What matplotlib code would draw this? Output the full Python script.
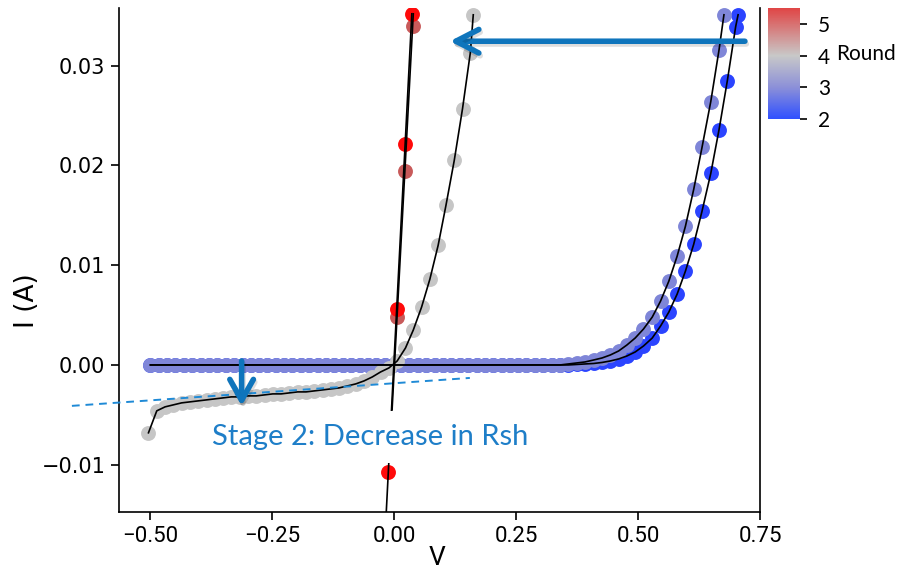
import matplotlib
matplotlib.use("Agg")
import matplotlib.pyplot as plt
import matplotlib.patheffects as pe
from matplotlib.colors import LinearSegmentedColormap, Normalize
from matplotlib.cm import ScalarMappable
from matplotlib.patches import FancyArrowPatch

# voltage sweep shared by rounds 2 and 3 (V)
V_SWEEP = [-0.500, -0.483, -0.466, -0.449, -0.431, -0.414, -0.397, -0.380, -0.363, -0.346,
           -0.329, -0.311, -0.294, -0.277, -0.260, -0.243, -0.226, -0.209, -0.191, -0.174,
           -0.157, -0.140, -0.123, -0.106, -0.089, -0.071, -0.054, -0.037, -0.020, -0.003,
           0.014, 0.031, 0.049, 0.066, 0.083, 0.100, 0.117, 0.134, 0.151, 0.169,
           0.186, 0.203, 0.220, 0.237, 0.254, 0.271, 0.289, 0.306, 0.323, 0.340,
           0.357, 0.374, 0.391, 0.409, 0.426, 0.443, 0.460, 0.477, 0.494, 0.511,
           0.529, 0.546, 0.563, 0.580, 0.597, 0.614, 0.631, 0.649, 0.666, 0.683,
           0.700]

# round 2 (A)
V_ROUND2 = V_SWEEP + [0.705]
I_ROUND2 = [0.0] * 51 + [0.00005, 0.0001, 0.00015, 0.00025, 0.0004, 0.0006, 0.0009, 0.0013,
                         0.0019, 0.0027, 0.0039, 0.0053, 0.0071, 0.0094, 0.0121, 0.0154,
                         0.0192, 0.0236, 0.0285, 0.0339, 0.0351]

# round 3
V_ROUND3 = V_SWEEP[:69] + [0.676]
I_ROUND3 = [0.0] * 50 + [0.0001, 0.0002, 0.0003, 0.0005, 0.0007, 0.0010, 0.0014, 0.0020,
                         0.0027, 0.0036, 0.0048, 0.0064, 0.0084, 0.0109, 0.0139, 0.0176,
                         0.0218, 0.0264, 0.0316, 0.0351]

# round 4
V_ROUND4 = [-0.504, -0.487, -0.470, -0.453, -0.436, -0.419, -0.402, -0.385, -0.368, -0.351,
            -0.334, -0.317, -0.300, -0.283, -0.266, -0.249, -0.232, -0.215, -0.198, -0.181,
            -0.164, -0.147, -0.130, -0.113, -0.096, -0.079, -0.062, -0.045, -0.028, -0.011,
            0.006, 0.023, 0.039, 0.056, 0.073, 0.090, 0.106, 0.123, 0.140, 0.156, 0.162]
I_ROUND4 = [-0.0068, -0.0046, -0.0042, -0.0040, -0.0038, -0.0037, -0.0036, -0.0035, -0.0034, -0.0033,
            -0.0032, -0.0032, -0.0031, -0.0031, -0.0030, -0.0029, -0.0029, -0.0028, -0.0027, -0.0027,
            -0.0026, -0.0025, -0.0024, -0.0023, -0.0021, -0.0019, -0.0016, -0.0012, -0.0007, -0.0003,
            0.0004, 0.0017, 0.0035, 0.0058, 0.0086, 0.0120, 0.0160, 0.0205, 0.0257, 0.0313, 0.0351]

# round 5 (two sweeps) + their straight fits
V_ROUND5A = [-0.012, 0.005, 0.022, 0.036]
I_ROUND5A = [-0.0107, 0.0056, 0.0221, 0.0352]
V_FIT5A = [-0.030, 0.036]
I_FIT5A = [-0.0277, 0.0352]

V_ROUND5B = [0.006, 0.022, 0.038]
I_ROUND5B = [0.0048, 0.0194, 0.0340]
V_FIT5B = [-0.0045, 0.039]
I_FIT5B = [-0.0045, 0.0352]

# guide line for shunt slope
V_GUIDE = [-0.661, 0.155]
I_GUIDE = [-0.0041, -0.0013]

CB_TICKS = [2, 3, 4, 5]

fig = plt.figure(figsize=(8.97, 5.72), dpi=100)
ax = fig.add_axes([0.1329, 0.1054, 0.7144, 0.8806])

ms = 115
ax.scatter(V_ROUND2, I_ROUND2, s=ms, color='#2b44ff', lw=0, zorder=2)
ax.scatter(V_ROUND3, I_ROUND3, s=ms, color='#7f86d8', lw=0, zorder=2.1)
ax.scatter(V_ROUND4, I_ROUND4, s=ms, color='#c6c6c6', lw=0, zorder=2.2)
ax.scatter(V_ROUND5B, I_ROUND5B, s=ms, color='#c85a5a', lw=0, zorder=2.3)
ax.scatter(V_ROUND5A, I_ROUND5A, s=ms, color='#ff0a0a', lw=0, zorder=2.4)

for vx, iy in [(V_ROUND2, I_ROUND2), (V_ROUND3, I_ROUND3), (V_ROUND4, I_ROUND4),
               (V_FIT5A, I_FIT5A), (V_FIT5B, I_FIT5B)]:
    ax.plot(vx, iy, color='black', lw=1.2, zorder=3)

ax.plot(V_GUIDE, I_GUIDE, color='#1f8ad6', lw=1.4, ls=(0, (4, 3)), zorder=3.5, clip_on=False)

ax.set_xlim(-0.564, 0.75)
ax.set_ylim(-0.01471, 0.03578)
ax.set_xticks([-0.5, -0.25, 0.0, 0.25, 0.5, 0.75])
ax.set_yticks([-0.01, 0.0, 0.01, 0.02, 0.03])
ax.set_yticklabels(['\u22120.01', '0.00', '0.01', '0.02', '0.03'])
ax.set_xticklabels(['\u22120.50', '\u22120.25', '0.00', '0.25', '0.50', '0.75'])

for lab in ax.get_xticklabels():
    lab.set_fontfamily('Roboto')
    lab.set_fontsize(16)
for lab in ax.get_yticklabels():
    lab.set_fontfamily('DejaVu Sans')
    lab.set_fontsize(15)
ax.tick_params(axis='both', length=6, width=1.2, pad=4)

ax.spines['top'].set_visible(False)
for s in ['left', 'right', 'bottom']:
    ax.spines[s].set_linewidth(1.2)

ax.set_xlabel('V', fontsize=19, family='Roboto')
ax.set_ylabel('I (A)', fontsize=19, family='DejaVu Sans')
ax.xaxis.set_label_coords(0.496, -0.068)
ax.yaxis.set_label_coords(-0.124, 0.42)

ax.text(-0.374, -0.00722, 'Stage 2: Decrease in Rsh', fontsize=21, family='Lato',
        color='#1e7ec8', va='center', ha='left', zorder=4,
        bbox=dict(boxstyle='square,pad=0.45', fc='white', ec='none'))

shadow = [pe.SimpleLineShadow(offset=(1, -2), shadow_color='black', alpha=0.13),
          pe.Normal()]
big = FancyArrowPatch((0.719, 0.03245), (0.114, 0.03245),
                      arrowstyle='->,head_length=1.65,head_width=0.85', mutation_scale=10,
                      shrinkA=0, shrinkB=0,
                      color='#0f75bc', lw=4, zorder=5, path_effects=shadow)
ax.add_patch(big)
small = FancyArrowPatch((-0.313, 0.0004), (-0.313, -0.0041),
                        arrowstyle='->,head_length=1.5,head_width=0.85', mutation_scale=10,
                        shrinkA=0, shrinkB=0,
                        color='#0f75bc', lw=4, zorder=5, path_effects=shadow)
ax.add_patch(small)

# colourbar for round
cmap = LinearSegmentedColormap.from_list(
    'rounds', [(0.0, '#3050ff'), (1 / 3.5, '#8c90d8'), (2 / 3.5, '#c8c8c8'), (1.0, '#e04545')])
norm = Normalize(2, 5.5)
cax = fig.add_axes([0.8562, 0.792, 0.0357, 0.194])
cb = fig.colorbar(ScalarMappable(norm=norm, cmap=cmap), cax=cax, ticks=CB_TICKS)
cb.outline.set_visible(False)
cax.tick_params(length=5, width=1.2, pad=8, labelsize=15)
for lab in cax.get_yticklabels():
    lab.set_fontfamily('Lato')
for t, line in zip(CB_TICKS, cax.yaxis.get_ticklines()[1::2]):
    line.set_color(cmap(norm(t)))
fig.text(836 / 897, (572 - 54) / 572, 'Round', fontsize=15, family='Lato', va='center', ha='left')

fig.savefig('out.png', dpi=100)
